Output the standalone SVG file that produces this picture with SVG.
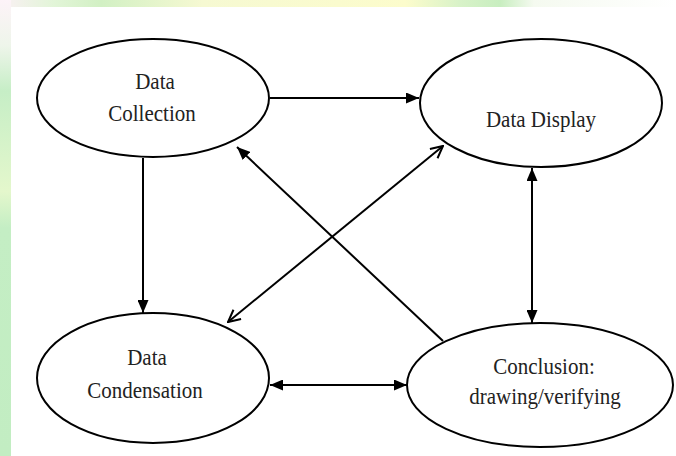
<svg xmlns="http://www.w3.org/2000/svg" width="676" height="456" viewBox="0 0 676 456">
  <defs>
    <linearGradient id="topStrip" x1="0" y1="0" x2="1" y2="0">
      <stop offset="0" stop-color="#fbf0f5"/>
      <stop offset="0.08" stop-color="#e2f5d8"/>
      <stop offset="0.15" stop-color="#d2f0c4"/>
      <stop offset="0.3" stop-color="#f6f9d2"/>
      <stop offset="0.6" stop-color="#fcfccc"/>
      <stop offset="0.68" stop-color="#d8f2c8"/>
      <stop offset="0.74" stop-color="#c8eec0"/>
      <stop offset="0.79" stop-color="#f5faf0"/>
      <stop offset="1" stop-color="#ffffff"/>
    </linearGradient>
    <linearGradient id="leftStrip" x1="0" y1="0" x2="0" y2="1">
      <stop offset="0" stop-color="#fdf3f8"/>
      <stop offset="0.1" stop-color="#eef5ea"/>
      <stop offset="0.2" stop-color="#c6eec6"/>
      <stop offset="0.42" stop-color="#e4f7cc"/>
      <stop offset="0.5" stop-color="#c4eec4"/>
      <stop offset="1" stop-color="#c2edc2"/>
    </linearGradient>
    <marker id="filled" viewBox="0 0 13 11" refX="13" refY="5.5" markerWidth="13" markerHeight="11" markerUnits="userSpaceOnUse" orient="auto-start-reverse">
      <path d="M0,0 L13,5.5 L0,11 z" fill="#000"/>
    </marker>
    <marker id="open" viewBox="0 0 14 14" refX="13" refY="7" markerWidth="14" markerHeight="14" markerUnits="userSpaceOnUse" orient="auto-start-reverse">
      <path d="M1,1 L13,7 L1,13" fill="none" stroke="#000" stroke-width="2"/>
    </marker>
  </defs>
  <style>
    .node ellipse { fill: #ffffff; stroke: #000; stroke-width: 2; }
    .node text { font-family: "Liberation Serif", "Times New Roman", serif; font-size: 21px; fill: #222; text-anchor: middle; }
    .edge { stroke: #000; stroke-width: 2; fill: none; }
  </style>
  <rect x="0" y="0" width="676" height="456" fill="#ffffff"/>
  <rect x="0" y="0" width="676" height="7" fill="url(#topStrip)"/>
  <rect x="0" y="0" width="11" height="456" fill="url(#leftStrip)"/>

  <g id="node-collection" class="node">
    <ellipse cx="153" cy="98" rx="116" ry="59"/>
    <text transform="translate(155,89) scale(1,1.1)">Data</text>
    <text transform="translate(152,121) scale(1,1.1)">Collection</text>
  </g>
  <g id="node-display" class="node">
    <ellipse cx="541" cy="103" rx="121" ry="64"/>
    <text transform="translate(541,127) scale(1,1.1)">Data Display</text>
  </g>
  <g id="node-condensation" class="node">
    <ellipse cx="153" cy="378" rx="116" ry="65"/>
    <text transform="translate(147,365) scale(1,1.1)">Data</text>
    <text transform="translate(145,398) scale(1,1.1)">Condensation</text>
  </g>
  <g id="node-conclusion" class="node">
    <ellipse cx="540" cy="385" rx="133" ry="62"/>
    <text transform="translate(544,374) scale(1,1.1)">Conclusion:</text>
    <text transform="translate(545,404) scale(1,1.1)">drawing/verifying</text>
  </g>

  <g id="connectors">
    <line class="edge" x1="270" y1="98" x2="419" y2="98" marker-end="url(#filled)"/>
    <line class="edge" x1="143" y1="158" x2="143" y2="313" marker-end="url(#filled)"/>
    <line class="edge" x1="443" y1="341" x2="237" y2="147" marker-end="url(#filled)"/>
    <line class="edge" x1="228" y1="322" x2="443" y2="146" marker-start="url(#open)" marker-end="url(#open)"/>
    <line class="edge" x1="532" y1="168" x2="532" y2="323" marker-start="url(#filled)" marker-end="url(#filled)"/>
    <line class="edge" x1="270" y1="385" x2="407" y2="385" marker-start="url(#filled)" marker-end="url(#filled)"/>
  </g>
</svg>
